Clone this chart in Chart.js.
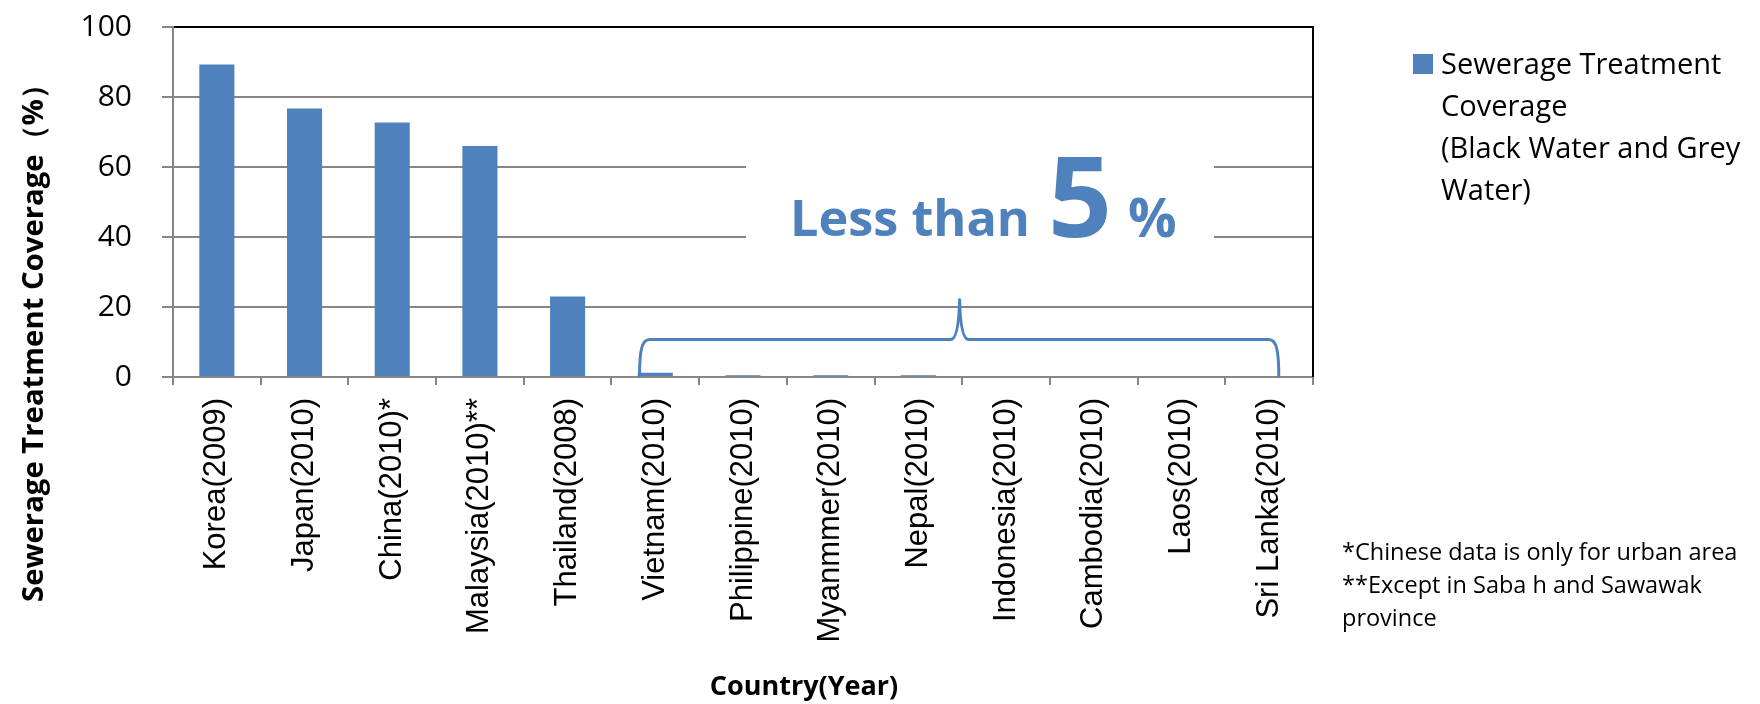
<!DOCTYPE html>
<html>
<head>
<meta charset="utf-8">
<script src="https://cdn.jsdelivr.net/npm/chart.js@4.4.0/dist/chart.umd.min.js"></script>
<style>
  html, body { margin: 0; padding: 0; background: #fff; }
</style>
</head>
<body>
<canvas id="grap1" width="1760" height="704"></canvas>
<script>
// data
var categories = ["Korea(2009)", "Japan(2010)", "China(2010)*", "Malaysia(2010)**", "Thailand(2008)",
    "Vietnam(2010)", "Philippine(2010)", "Myanmmer(2010)", "Nepal(2010)", "Indonesia(2010)",
    "Cambodia(2010)", "Laos(2010)", "Sri Lanka(2010)"];
var coverage = [89.3, 76.7, 72.7, 66, 23, 1.2, 0.5, 0.5, 0.5, 0, 0, 0, 0];
var yTicks = [0, 20, 40, 60, 80, 100];
var seriesName = ["Sewerage Treatment", "Coverage", "(Black Water and Grey", "Water)"];
var notes = ["*Chinese data is only for urban area", "**Except in Saba h and Sawawak", "province"];

// brace under the "less than 5 %" group (category index / value units)
var braceFrom = 4.82, braceTo = 12.11, braceMid = 8.47, braceLevel = 10.7, bracePeak = 22.1;

var blue = "#4f81bd";
var grey = "#868686";

// pick a font size so the text gets the wanted width
function fitFont(c, text, weight, family, width) {
    c.font = weight + " 50px " + family;
    var w = c.measureText(text).width;
    return weight + " " + (50 * width / w).toFixed(1) + "px " + family;
}

var extras = {
    id: "extras",
    beforeDatasetsDraw: function (chart) {
        var c = chart.ctx;
        // text box of the note hides the grid lines behind it
        c.save();
        c.fillStyle = "#fff";
        c.fillRect(746, 140, 468, 120);
        c.restore();
    },
    afterDatasetsDraw: function (chart) {
        var c = chart.ctx;
        var xs = chart.scales.x, ys = chart.scales.y;
        var a = chart.chartArea;

        // right border of the plot area
        c.save();
        c.strokeStyle = "#000";
        c.lineWidth = 2;
        c.beginPath();
        c.moveTo(a.right, a.top - 1);
        c.lineTo(a.right, a.bottom);
        c.stroke();

        // curly brace
        var x0 = xs.getPixelForValue(braceFrom);
        var x1 = xs.getPixelForValue(braceTo);
        var xm = xs.getPixelForValue(braceMid);
        var yb = ys.getPixelForValue(0);
        var yl = ys.getPixelForValue(braceLevel);
        var yp = ys.getPixelForValue(bracePeak);
        c.strokeStyle = blue;
        c.lineWidth = 3;
        c.lineJoin = "round";
        c.beginPath();
        c.moveTo(x0, yb);
        c.bezierCurveTo(x0, yl + 12, x0 + 2, yl, x0 + 10, yl);
        c.lineTo(xm - 9, yl);
        c.quadraticCurveTo(xm - 1, yl, xm, yp);
        c.quadraticCurveTo(xm + 1, yl, xm + 9, yl);
        c.lineTo(x1 - 10, yl);
        c.bezierCurveTo(x1 - 2, yl, x1, yl + 12, x1, yb);
        c.stroke();
        c.restore();
    },
    afterDraw: function (chart) {
        var c = chart.ctx;
        c.save();

        // note
        c.fillStyle = blue;
        c.textBaseline = "alphabetic";
        c.textAlign = "left";
        c.font = fitFont(c, "Less than", "bold", "'Open Sans'", 240);
        c.fillText("Less than", 790, 236);
        c.font = "bold 112px 'Open Sans'";
        c.fillText("5", 1048, 237);
        c.font = "bold 54px 'Open Sans'";
        c.fillText("%", 1128, 237);

        // legend
        c.fillRect(1413, 54, 20, 20);
        c.fillStyle = "#000";
        c.font = "29px 'Open Sans'";
        for (var i = 0; i < seriesName.length; i++) {
            c.fillText(seriesName[i], 1441, 74 + i * 42);
        }

        // footnotes
        c.font = "23.5px 'Open Sans'";
        for (var j = 0; j < notes.length; j++) {
            c.fillText(notes[j], 1342, 560 + j * 33);
        }

        // axis titles
        c.font = "bold 27px 'Open Sans'";
        c.textAlign = "center";
        c.fillText("Country(Year)", 804, 695);

        c.translate(43, 336);
        c.rotate(-Math.PI / 2);
        c.font = fitFont(c, "Sewerage Treatment Coverage\uFF08%\uFF09", "bold", "'Open Sans'", 532);
        c.fillText("Sewerage Treatment Coverage\uFF08%\uFF09", 0, 0);
        c.restore();
    }
};

var ctx = document.getElementById("grap1").getContext("2d");
var myChart = new Chart(ctx, {
    type: "bar",
    data: {
        labels: categories,
        datasets: [{
            label: seriesName.join(" "),
            data: coverage,
            backgroundColor: blue,
            borderWidth: 0,
            barPercentage: 0.4,
            categoryPercentage: 1
        }]
    },
    options: {
        responsive: false,
        animation: false,
        layout: {
            padding: { left: 0, top: 27, right: 447, bottom: 0 }
        },
        plugins: {
            legend: { display: false },
            tooltip: { enabled: false }
        },
        scales: {
            x: {
                grid: {
                    drawOnChartArea: false,
                    drawTicks: true,
                    tickLength: 8,
                    color: grey,
                    lineWidth: 2,
                    offset: true
                },
                border: { color: grey, width: 2 },
                ticks: {
                    autoSkip: false,
                    minRotation: 90,
                    maxRotation: 90,
                    padding: 13,
                    color: "#000",
                    font: { family: "'Liberation Sans', Arial", size: 31 }
                },
                afterFit: function (s) { s.height = 327; }
            },
            y: {
                min: 0,
                max: 100,
                afterBuildTicks: function (s) {
                    s.ticks = yTicks.map(function (v) { return { value: v }; });
                },
                grid: {
                    color: function (c) { return c.tick && c.tick.value === 100 ? "#000" : grey; },
                    tickColor: grey,
                    lineWidth: 2,
                    tickLength: 11
                },
                border: { color: grey, width: 2 },
                ticks: {
                    padding: 30,
                    color: "#000",
                    font: { family: "'Open Sans'", size: 30 }
                },
                afterFit: function (s) {
                    s.width = 173;
                    s.paddingTop = 0;
                    s.paddingBottom = 0;
                }
            }
        }
    },
    plugins: [extras]
});
</script>
</body>
</html>
